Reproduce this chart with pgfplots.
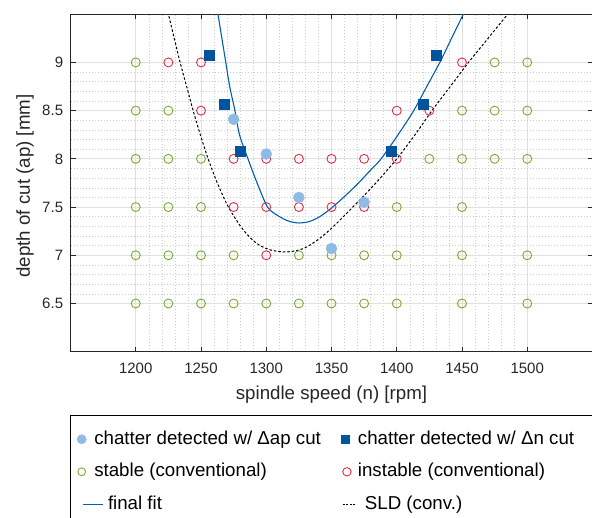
\documentclass[border=0pt]{standalone}
\usepackage{fontspec}
\setmainfont{Liberation Sans}
\usepackage{pgfplots}
\pgfplotsset{compat=1.18}

\definecolor{stablegreen}{RGB}{119,172,48}
\definecolor{instred}{RGB}{222,45,70}
\definecolor{aplight}{RGB}{142,186,229}
\definecolor{ndark}{RGB}{0,84,159}
\definecolor{fitblue}{RGB}{0,94,175}
\definecolor{axgray}{RGB}{38,38,38}

\pgfplotsset{
  markleg/.style={legend image code/.code={%
    \path[draw=none, fill=none] (0pt,-1pt) rectangle (12pt,1pt);
    \draw[##1] plot coordinates {(#1,0pt)};}},
  fitleg/.style={legend image code/.code={%
    \path[draw=none, fill=none] (0pt,-1pt) rectangle (12pt,1pt);
    \draw[##1, overlay, fitblue, line width=1.1pt] (7pt,0pt) -- (27.6pt,0pt);}},
  sldleg/.style={legend image code/.code={%
    \path[draw=none, fill=none] (0pt,-1pt) rectangle (12pt,1pt);
    \draw[##1, overlay, black, line width=1pt, dash pattern=on 2pt off 1.5pt] (3.3pt,0pt) -- (16pt,0pt);}},
}

\begin{document}
\begin{tikzpicture}
\useasboundingbox (0pt,0pt) rectangle (592pt,-517pt);
\clip (0pt,0pt) rectangle (592pt,-517pt);
\begin{axis}[
  at={(70.5pt,-351.7pt)}, anchor=south west,
  scale only axis, width=522pt, height=337.5pt,
  xmin=1150, xmax=1550, ymin=6, ymax=9.5,
  xtick={1200,1250,...,1500}, ytick={6.5,7,...,9},
  minor x tick num=4, minor y tick num=4,
  tick align=inside, major tick length=5pt, minor tick length=0pt,
  tick style={axgray, line width=0.8pt},
  axis line style={axgray, line width=0.8pt},
  grid=both,
  major grid style={draw=black!12, line width=0.9pt},
  minor grid style={draw=black!20, line width=0.5pt, dash pattern=on 0.8pt off 2.2pt},
  /pgf/number format/assume math mode=true,
  /pgf/number format/1000 sep={},
  ticklabel style={font=\fontsize{15}{18}\selectfont, text=axgray},
  xticklabel style={inner sep=0pt, yshift=-11.3pt},
  yticklabel style={inner sep=0pt, xshift=-7.2pt},
  label style={font=\fontsize{18.7}{22}\selectfont, text=axgray},
  xlabel={spindle speed (n) [rpm]},
  ylabel={depth of cut (ap) [mm]},
  xlabel style={at={(axis description cs:0.5,-0.1283)}, anchor=center},
  ylabel style={at={(axis description cs:-0.0872,0.491)}, anchor=center, rotate=0},
  legend columns=2, legend cell align=left,
  legend style={
    draw=none, fill=none, inner sep=0pt, outer sep=0pt,
    at={(axis description cs:0.00996,-0.2335)}, anchor=north west,
    font=\fontsize{18.7}{22}\selectfont,
    nodes={inner sep=0pt, text height=13.5pt, text depth=4pt},
    row sep=15pt,
    /tikz/every odd column/.append style={column sep=6.6pt},
    /tikz/every even column/.append style={column sep=18.4pt},
  },
]
% stable (conventional)
\addplot[forget plot, only marks, mark=o, mark size=4.5pt, stablegreen, mark options={line width=0.9pt}] coordinates {
  (1200,9) (1475,9) (1500,9)
  (1200,8.5) (1225,8.5) (1450,8.5) (1475,8.5) (1500,8.5)
  (1200,8) (1225,8) (1250,8) (1425,8) (1450,8) (1475,8) (1500,8)
  (1200,7.5) (1225,7.5) (1250,7.5) (1400,7.5) (1450,7.5)
  (1200,7) (1225,7) (1250,7) (1275,7) (1325,7) (1350,7) (1375,7) (1400,7) (1450,7) (1500,7)
  (1200,6.5) (1225,6.5) (1250,6.5) (1275,6.5) (1300,6.5) (1325,6.5) (1350,6.5) (1375,6.5) (1400,6.5) (1450,6.5) (1500,6.5)
};
% instable (conventional)
\addplot[forget plot, only marks, mark=o, mark size=4.5pt, instred, mark options={line width=0.9pt}] coordinates {
  (1225,9) (1250,9) (1450,9)
  (1250,8.5) (1400,8.5) (1425,8.5)
  (1275,8) (1300,8) (1325,8) (1350,8) (1375,8) (1400,8)
  (1275,7.5) (1300,7.5) (1325,7.5) (1350,7.5) (1375,7.5)
  (1300,7)
};
% final fit
\addplot[forget plot, fitblue, line width=1.1pt, smooth] coordinates {
  (1260,9.75) (1263,9.5) (1266,9.25) (1269,9.0) (1272,8.75) (1276,8.5) (1279.5,8.25)
  (1286,8.0) (1293,7.75) (1301,7.5) (1309,7.41) (1317,7.355) (1325,7.335) (1333,7.35)
  (1341,7.40) (1350,7.49) (1360,7.61) (1370,7.74) (1379,7.87) (1388,8.0) (1401,8.25)
  (1413,8.5) (1423,8.75) (1433,9.0) (1442,9.25) (1451,9.5) (1460,9.75)
};
% SLD (conv.)
\addplot[forget plot, black, line width=1pt, dash pattern=on 2.5pt off 2pt, smooth] coordinates {
  (1220,9.75) (1225,9.5) (1229.5,9.25) (1234,9.0) (1239,8.75) (1244,8.5) (1249.5,8.25)
  (1255.5,8.0) (1262.5,7.75) (1271,7.5) (1282,7.27) (1292,7.13) (1302,7.06) (1313,7.035)
  (1322,7.045) (1330,7.08) (1340,7.165) (1350,7.28) (1362,7.44) (1375,7.62) (1388,7.81)
  (1400,8.0) (1414,8.25) (1427,8.5) (1441,8.75) (1455,9.0) (1470,9.25) (1485,9.5) (1500,9.75)
};
% chatter detected w/ delta ap cut
\addplot[forget plot, only marks, mark=*, mark size=5.5pt, aplight] coordinates {
  (1275,8.41) (1300,8.05) (1325,7.6) (1350,7.07) (1375,7.55)
};
% chatter detected w/ delta n cut
\addplot[forget plot, only marks, mark=square*, mark size=5pt, ndark] coordinates {
  (1256,9.08) (1268,8.57) (1280,8.08) (1396,8.08) (1420,8.57) (1430,9.08)
};

\addlegendimage{aplight, mark=*, mark size=4.6pt, markleg=6pt}
\addlegendentry{chatter detected w/ Δap cut}
\addlegendimage{ndark, mark=square*, mark size=4.2pt, markleg=6pt}
\addlegendentry{chatter detected w/ Δn cut}
\addlegendimage{stablegreen, mark=o, mark size=3.9pt, mark options={line width=0.9pt}, markleg=6pt}
\addlegendentry{stable (conventional)}
\addlegendimage{instred, mark=o, mark size=4.2pt, mark options={line width=0.9pt}, markleg=7.6pt}
\addlegendentry{instable (conventional)}
\addlegendimage{fitblue, line width=1.1pt, fitleg}
\addlegendentry{\hspace*{13.7pt}final fit}
\addlegendimage{black, line width=1pt, sldleg}
\addlegendentry{\hspace*{7pt}SLD (conv.)}
\end{axis}
\draw[black, line width=0.8pt] (70pt,-415pt) rectangle (640pt,-560pt);
\end{tikzpicture}
\end{document}
